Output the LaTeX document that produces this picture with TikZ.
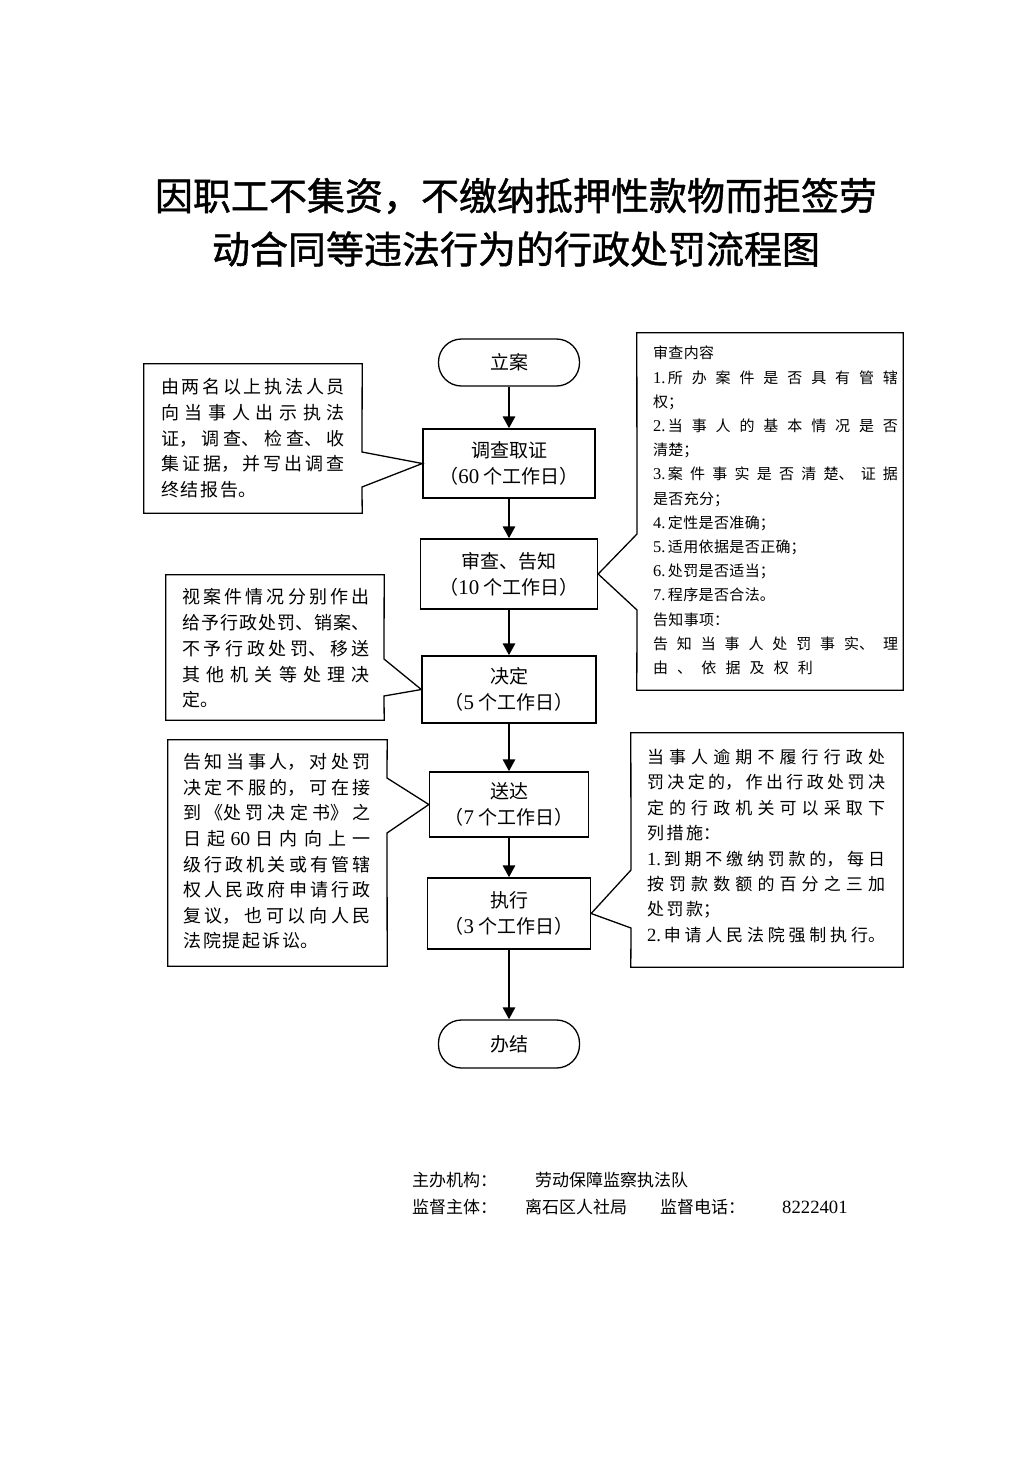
\documentclass[tikz,border=0pt]{standalone}
\usepackage{fontspec}
\setmainfont{Noto Sans CJK SC}
\newfontfamily\titlefont[FakeBold=1.2]{Noto Sans CJK SC}
\newfontfamily\latinfont[Scale=1.1]{Liberation Serif}
\newcommand\nm[1]{{\latinfont #1}}
\newcommand\cjf[3]{\fontsize{#1}{#2}\selectfont\XeTeXlinebreakskip=#3\relax}
\usetikzlibrary{arrows.meta}
\XeTeXlinebreaklocale "zh"
\begin{document}
\begin{tikzpicture}[x=1pt,y=-1pt,
  proc/.style={draw, line width=1.3pt, inner sep=0pt, align=center,
    font={\cjf{19}{26}{2pt}}},
  term/.style={proc, rounded corners=23pt},
  flow/.style={line width=2.8pt, -{Triangle[length=12pt,width=12pt]}},
  frame/.style={line width=1.3pt, line join=miter},
  cframe/.style={inner sep=0pt},
  ctext/.style={inner sep=0pt, align=justify, text width=#1},
  foot/.style={anchor=west, inner sep=0pt, font={\cjf{17}{20}{1.5pt}}},
  ttl/.style={inner sep=0pt, font={\titlefont\fontsize{38}{44}\selectfont}}
]
\useasboundingbox (0,0) rectangle (1033,1460);

% title
\node[ttl] (ti1) at (516,196) {因职工不集资，不缴纳抵押性款物而拒签劳};
\node[ttl] (ti2) at (516,249) {动合同等违法行为的行政处罚流程图};

% main flow
\node[term, minimum width=141pt, minimum height=47pt] (s) at (509,362.5) {立案};
\node[proc, minimum width=172pt, minimum height=69pt] (b1) at (509,463.5) {调查取证\\（\nm{60} 个工作日）};
\node[proc, minimum width=177pt, minimum height=70pt] (b2) at (509,574) {审查、告知\\（\nm{10} 个工作日）};
\node[proc, minimum width=174pt, minimum height=67pt] (b3) at (509,689.5) {决定\\（\nm{5} 个工作日）};
\node[proc, minimum width=159pt, minimum height=65pt] (b4) at (509,804.5) {送达\\（\nm{7} 个工作日）};
\node[proc, minimum width=163pt, minimum height=71pt] (b5) at (509,913.5) {执行\\（\nm{3} 个工作日）};
\node[term, minimum width=141pt, minimum height=48pt] (e) at (509,1044) {办结};

\draw[flow] (s.south) -- (s.south |- b1.north);
\draw[flow] (b1.south) -- (b1.south |- b2.north);
\draw[flow] (b2.south) -- (b2.south |- b3.north);
\draw[flow] (b3.south) -- (b3.south |- b4.north);
\draw[flow] (b4.south) -- (b4.south |- b5.north);
\draw[flow] (b5.south) -- (b5.south |- e.north);

% callout 1 (left, 调查取证)
\node[cframe, minimum width=218pt, minimum height=149pt] (f1) at (253,438.5) {};
\coordinate (p1a) at (362,452);
\coordinate (p1b) at (362,487);
\draw[frame] (f1.north west) -- (f1.north east) -- (p1a) -- (b1.west) -- (p1b) -- (f1.south east) -- (f1.south west) -- cycle;
\node[ctext=184pt, font={\cjf{18}{25.8}{2pt plus 8pt minus 1pt}}] (t1) at (253,438.3) {%
由两名以上执法人员\linebreak
向当事人出示执法\linebreak
证，调查、检查、收\linebreak
集证据，并写出调查\linebreak
终结报告。};

% callout 2 (right, 审查告知)
\node[cframe, minimum width=266pt, minimum height=357pt] (f2) at (770,511.5) {};
\coordinate (p2a) at (637,534);
\coordinate (p2b) at (637,610);
\draw[frame] (f2.north west) -- (f2.north east) -- (f2.south east) -- (f2.south west) -- (p2b) -- (b2.east) -- (p2a) -- cycle;
\node[ctext=245pt, font={\cjf{15}{24.2}{0.4pt plus 14pt minus 0.3pt}}] (t2) at (775.5,510.5) {%
审查内容\\
\nm{1.}\,所办案件是否具有管辖\linebreak
权；\\
\nm{2.}\,当事人的基本情况是否\linebreak
清楚；\\
\nm{3.}\,案件事实是否清楚、证据\linebreak
是否充分；\\
\nm{4.}\,定性是否准确；\\
\nm{5.}\,适用依据是否正确；\\
\nm{6.}\,处罚是否适当；\\
\nm{7.}\,程序是否合法。\\
告知事项：\\
告知当事人处罚事实、理\linebreak
\makebox[160pt][s]{由\hfill{}、\hfill{}依\hfill{}据\hfill{}及\hfill{}权\hfill{}利}};

% callout 3 (left, 决定)
\node[cframe, minimum width=218pt, minimum height=145pt] (f3) at (275,647.5) {};
\coordinate (p3a) at (384,659);
\coordinate (p3b) at (384,696);
\draw[frame] (f3.north west) -- (f3.north east) -- (p3a) -- (b3.west) -- (p3b) -- (f3.south east) -- (f3.south west) -- cycle;
\node[ctext=188pt, font={\cjf{18}{25.75}{2pt plus 8pt minus 1.5pt}}] (t3) at (276,648.5) {%
视案件情况分别作出\linebreak
给予行政处罚、销案、\linebreak
不予行政处罚、移送\linebreak
其他机关等处理决\linebreak
定。};

% callout 4 (left, 送达)
\node[cframe, minimum width=219pt, minimum height=226pt] (f4) at (277.5,853) {};
\coordinate (p4a) at (387,778);
\coordinate (p4b) at (387,833);
\draw[frame] (f4.north west) -- (f4.north east) -- (p4a) -- (b4.west) -- (p4b) -- (f4.south east) -- (f4.south west) -- cycle;
\node[ctext=188pt, font={\cjf{18}{25.6}{2pt plus 8pt minus 1pt}}] (t4) at (277,851.5) {%
告知当事人，对处罚\linebreak
决定不服的，可在接\linebreak
到《处罚决定书》之\linebreak
日起 \nm{60} 日内向上一\linebreak
级行政机关或有管辖\linebreak
权人民政府申请行政\linebreak
复议，也可以向人民\linebreak
法院提起诉讼。};

% callout 5 (right, 执行)
\node[cframe, minimum width=272pt, minimum height=234pt] (f5) at (767,850) {};
\coordinate (p5a) at (631,870);
\coordinate (p5b) at (631,928);
\draw[frame] (f5.north west) -- (f5.north east) -- (f5.south east) -- (f5.south west) -- (p5b) -- (b5.east) -- (p5a) -- cycle;
\node[ctext=238pt, font={\cjf{17}{25.4}{2.5pt plus 10pt minus 1pt}\parfillskip=0pt\relax}] (t5) at (766,846) {%
当事人逾期不履行行政处\linebreak
罚决定的，作出行政处罚决\linebreak
定的行政机关可以采取下\linebreak
列措施：\\
\nm{1.}\,到期不缴纳罚款的，每日\linebreak
按罚款数额的百分之三加\linebreak
处罚款；\\
\nm{2.}\,申请人民法院强制执行。};

% footer
\node[foot] (ft1) at (412,1180) {主办机构：};
\node[foot] (ft2) at (535,1180) {劳动保障监察执法队};
\node[foot] (ft3) at (412,1207) {监督主体：};
\node[foot] (ft4) at (525,1207) {离石区人社局};
\node[foot] (ft5) at (660,1207) {监督电话：};
\node[foot] (ft6) at (782,1207) {\nm{8222401}};
\end{tikzpicture}
\end{document}
